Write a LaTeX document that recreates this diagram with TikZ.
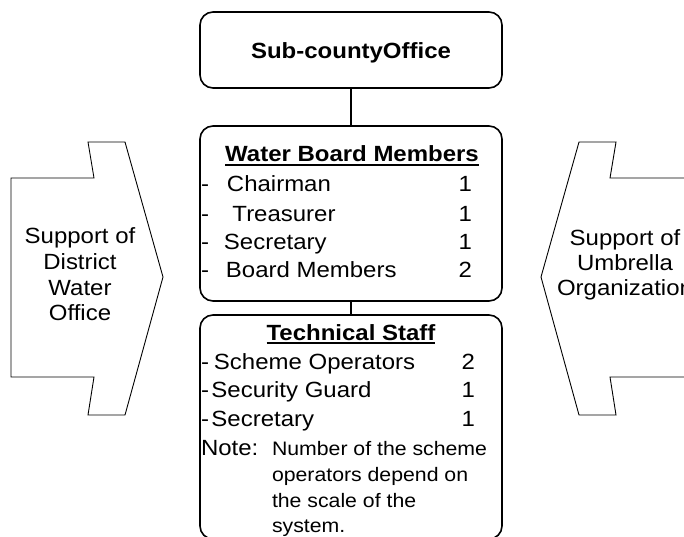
\documentclass[tikz,border=0pt]{standalone}
\usepackage{fontspec}
\setmainfont{Liberation Sans}[FakeStretch=1.09]
% bold heading with a heavy rule beneath it
\newcommand\ulbox[1]{\setbox0\hbox{#1}\rlap{\rule[-3.6pt]{\wd0}{1.8pt}}\box0}

\begin{document}
\begin{tikzpicture}[x=1pt,y=-1pt,
  every node/.style={inner sep=0pt, outer sep=0pt},
  txt/.style={font=\fontsize{22}{25}\selectfont},
  notetxt/.style={font=\fontsize{19.5}{25}\selectfont},
  bold/.style={font=\fontsize{22}{25}\selectfont\bfseries},
  orgbox/.style={draw, line width=1.6pt, rounded corners=13pt, minimum width=302pt},
  link/.style={line width=1.5pt},
  support/.style={draw, line width=0.9pt, line join=miter},
  ]
\useasboundingbox (0,0) rectangle (684,537);
\clip (0,0) rectangle (684,537);

% side supports (notched arrows pointing at the structure)
\draw[support] (11,178) -- (94,178) -- (88,142) -- (125,142) -- (163,277)
  -- (125,415) -- (88,415) -- (94,377) -- (11,377) -- cycle;
\draw[support] (700,178) -- (610,178) -- (616,142) -- (579,142) -- (541,277)
  -- (579,415) -- (616,415) -- (610,377) -- (700,377);

\foreach \t/\y [count=\i] in {Support of/243, District/269, Water/295, Office/320}
  \node[txt, anchor=base] (dwo\i) at (80,\y) {\t};
\foreach \t/\y [count=\i] in {Support of/245, Umbrella/270, Organization/295}
  \node[txt, anchor=base] (umb\i) at (625,\y) {\t};

% boxes of the structure
\node[orgbox, minimum height=76pt] (sco) at (351,50) {};
\node[orgbox, minimum height=175pt] (wbm) at (351,213.5) {};
\node[orgbox, minimum height=224pt] (tech) at (351,427) {};

\draw[link] (sco.south) -- (wbm.north);
\draw[link] (wbm.south) -- (tech.north);

% top office
\node[bold, anchor=base] (scot) at (351,59) {Sub-countyOffice};

% water board
\node[bold, anchor=base] (wbt) at (352,162) {\ulbox{Water Board Members}};
\node[txt, anchor=base west] (wb1) at (201,192) {-\hspace{18pt}Chairman};
\node[txt, anchor=base west] (wb2) at (201,221) {-\hspace{23.5pt}Treasurer};
\node[txt, anchor=base west] (wb3) at (201,249) {-\hspace{15pt}Secretary};
\node[txt, anchor=base west] (wb4) at (201,277) {-\hspace{17pt}Board Members};
\node[txt, anchor=base east] (wbn1) at (472,192) {1};
\node[txt, anchor=base east] (wbn2) at (472,221) {1};
\node[txt, anchor=base east] (wbn3) at (472,249) {1};
\node[txt, anchor=base east] (wbn4) at (472,277) {2};

% technical staff
\node[bold, anchor=base] (tst) at (351,340) {\ulbox{Technical Staff}};
\node[txt, anchor=base west] (ts1) at (201,369) {-\hspace{5pt}Scheme Operators};
\node[txt, anchor=base west] (ts2) at (201,397) {-\hspace{2.5pt}Security Guard};
\node[txt, anchor=base west] (ts3) at (201,426) {-\hspace{2.5pt}Secretary};
\node[txt, anchor=base east] (tsn1) at (475,369) {2};
\node[txt, anchor=base east] (tsn2) at (475,397) {1};
\node[txt, anchor=base east] (tsn3) at (475,426) {1};

\node[txt, anchor=base west] (note) at (201,455) {Note:};
\node[notetxt, anchor=base west] (nt1) at (272,455) {Number of the scheme};
\node[notetxt, anchor=base west] (nt2) at (272,481) {operators depend on};
\node[notetxt, anchor=base west] (nt3) at (272,507) {the scale of the};
\node[notetxt, anchor=base west] (nt4) at (272,532) {system.};
\end{tikzpicture}
\end{document}
